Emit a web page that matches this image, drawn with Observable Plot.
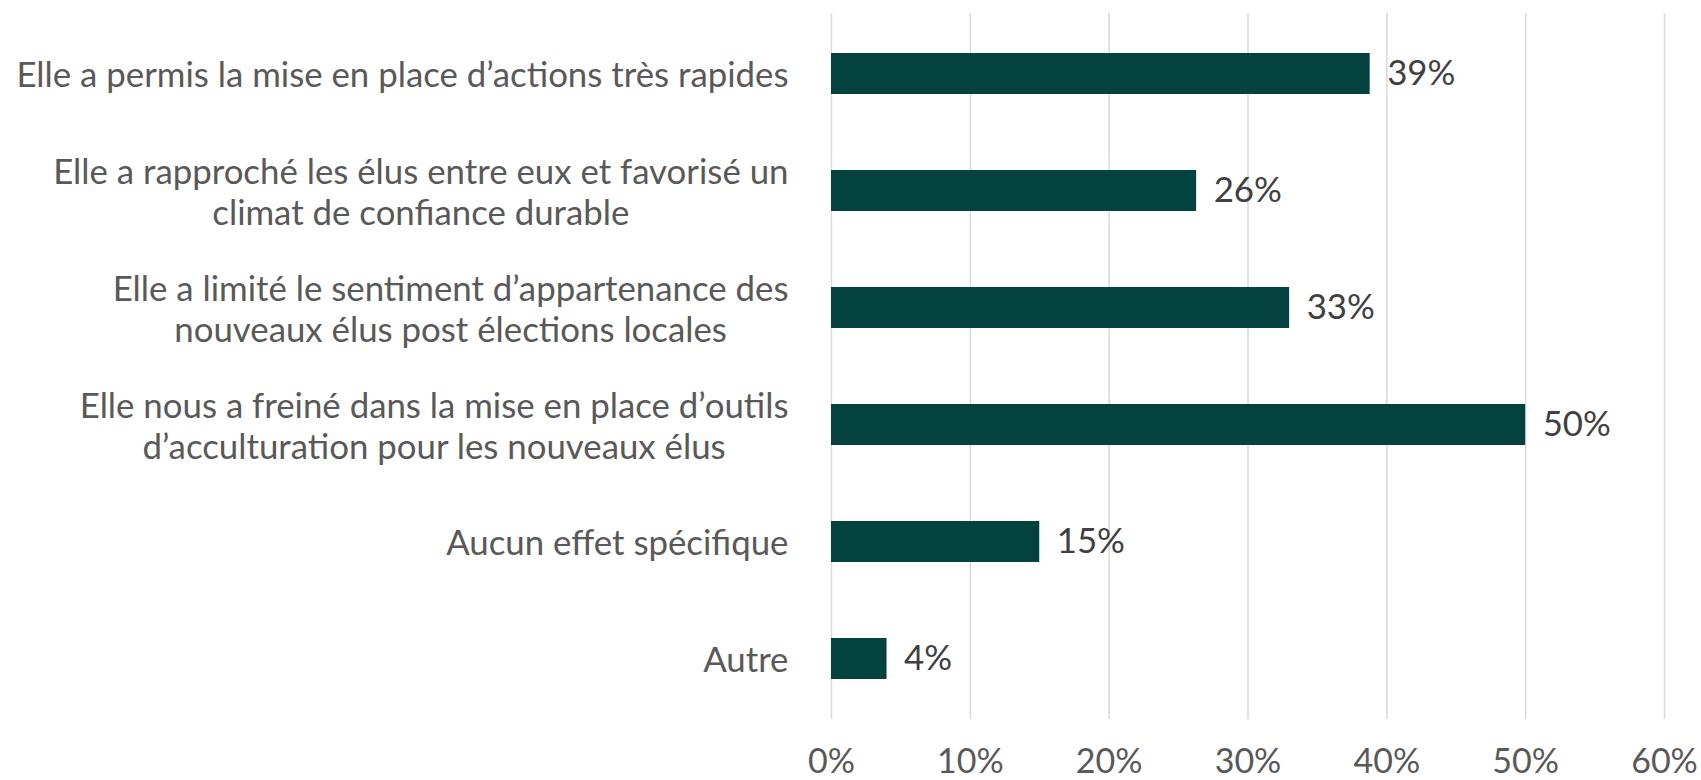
<!DOCTYPE html>
<html><head><meta charset="utf-8">
<script src="https://cdn.jsdelivr.net/npm/d3@7"></script>
<script src="https://cdn.jsdelivr.net/npm/@observablehq/plot@0.6"></script>
<style>html,body{margin:0;padding:0;background:#fff;}</style>
</head><body><div id="chart"></div>
<script>
const categories = [
  "Elle a permis la mise en place d’actions très rapides",
  "Elle a rapproché les élus entre eux et favorisé un\nclimat de confiance durable",
  "Elle a limité le sentiment d’appartenance des\nnouveaux élus post élections locales",
  "Elle nous a freiné dans la mise en place d’outils\nd’acculturation pour les nouveaux élus",
  "Aucun effet spécifique",
  "Autre"
];
const values = [38.8, 26.3, 33.0, 50.0, 15.0, 4.0];
const xTicks = [0, 10, 20, 30, 40, 50, 60];

const data = categories.map((c, i) => ({category: c, value: values[i]}));
const FONT = "Lato, 'Open Sans', sans-serif";
const FS = 34.8;

const chart = Plot.plot({
  width: 1701, height: 780,
  marginLeft: 831, marginRight: 37, marginTop: 13, marginBottom: 61,
  style: {fontFamily: FONT, background: "#fff", overflow: "visible"},
  x: {domain: [0, 60], ticks: xTicks},
  y: {domain: categories, paddingInner: 0.647, paddingOuter: 0.3235},
  marks: [
    Plot.gridX(xTicks, {stroke: "#d9d9d9", strokeOpacity: 1, strokeWidth: 1.5}),
    Plot.barX(data, {x: "value", y: "category", fill: "#03423f"}),
    Plot.text(data, {x: "value", y: "category", text: d => Math.round(d.value) + "%", textAnchor: "start", dx: 17, fill: "#404040", fontSize: FS}),
    Plot.axisX(xTicks, {tickSize: 0, tickPadding: 29, tickFormat: d => d + "%", fontSize: 34, fill: "#595959", label: null}),
    Plot.axisY({tickSize: 0, tickPadding: 43, fontSize: FS, fill: "#595959", lineHeight: 1.18, label: null})
  ]
});
document.getElementById("chart").appendChild(chart);

// Center multi-line category labels (as in the original), keeping the block right-aligned
chart.querySelectorAll('g[aria-label="y-axis tick label"] text').forEach(t => {
  const spans = t.querySelectorAll("tspan");
  if (spans.length > 1) {
    const w = t.getBBox().width;
    t.setAttribute("text-anchor", "middle");
    spans.forEach(s => { s.setAttribute("x", 0); });
    const tr = t.getAttribute("transform") || "";
    t.setAttribute("transform", tr + ` translate(${-w / 2},0)`);
  }
});
</script>
</body></html>
